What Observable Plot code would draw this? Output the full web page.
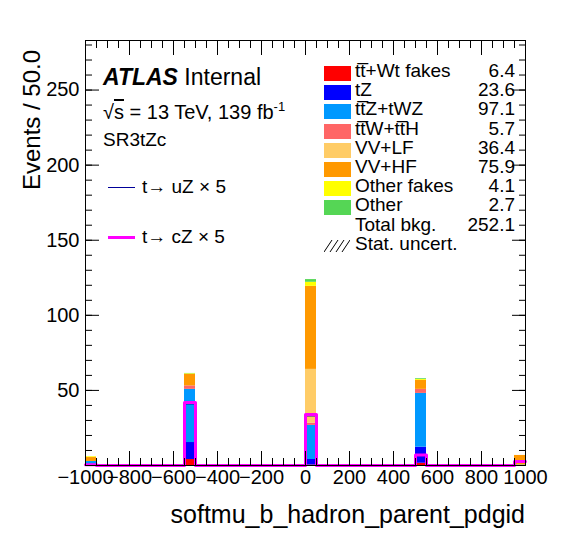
<!DOCTYPE html>
<html><head><meta charset="utf-8">
<script src="https://cdn.jsdelivr.net/npm/d3@7"></script>
<script src="https://cdn.jsdelivr.net/npm/@observablehq/plot@0.6"></script>
<style>
body{margin:0;background:#fff;font-family:"Liberation Sans",Arial,sans-serif}
#wrap{position:relative;width:571px;height:547px}
.t{position:absolute;white-space:nowrap;color:#000}
</style></head><body>
<div id="wrap"></div>
<script>
// bin lower edges of the filled bins (width 50)
const bins = [-1000, -550, 0, 500, 950];
const labels = ["tt\u0305+Wt fakes", "tZ", "tt\u0305Z+tWZ", "tt\u0305W+tt\u0305H", "VV+LF", "VV+HF", "Other fakes", "Other"];
const colors = ["#ff0000", "#0000ff", "#0099ff", "#ff6666", "#ffcc66", "#ff9900", "#ffff00", "#55d655"];
const yields = ["6.4", "23.6", "97.1", "5.7", "36.4", "75.9", "4.1", "2.7"];
// per-process values in each bin
const ttFakes = [0, 4, 0.3, 1.5, 0];
const tZ = [0, 11.3, 3.7, 10.7, 0];
const ttZ = [2.7, 35.4, 22.7, 35.8, 0.3];
const ttWH = [0, 2.3, 1.5, 2.7, 0];
const vvLF = [0, 0, 35.8, 0, 0];
const vvHF = [2.6, 7.7, 55.3, 6, 6.4];
const otherFakes = [0.5, 0.4, 2.7, 0.6, 0];
const other = [0, 0.2, 1.8, 0.5, 0];
const sigCZ = [0.5, 42, 34, 7, 2.7];
const sigUZ = [0.5, 41, 33, 6.5, 2.5];

const series = [ttFakes, tZ, ttZ, ttWH, vvLF, vvHF, otherFakes, other];
const rects = [];
bins.forEach((b, i) => {
  let acc = 0;
  series.forEach((s, k) => {
    rects.push({x1: b, x2: b + 50, y1: acc, y2: acc + s[i], fill: colors[k]});
    acc += s[i];
  });
});
// step outline over all 40 bins
const stepPts = (vals) => {
  const pts = [];
  for (let e = -1000; e < 1000; e += 50) {
    const j = bins.indexOf(e);
    pts.push({x: e, y: j >= 0 ? vals[j] : 0});
  }
  pts.push({x: 1000, y: pts[pts.length - 1].y});
  return pts;
};

const ff = "Liberation Sans, Arial, sans-serif";
const chart = Plot.plot({
  width: 571, height: 547,
  marginLeft: 85, marginRight: 46, marginTop: 40, marginBottom: 82,
  style: {fontFamily: ff, fontSize: "20px", background: "white"},
  x: {domain: [-1000, 1000]},
  y: {domain: [0, 283]},
  marks: [
    Plot.rect(rects, {x1: "x1", x2: "x2", y1: "y1", y2: "y2", fill: "fill"}),
    Plot.line(stepPts(sigUZ), {x: "x", y: "y", curve: "step-after", stroke: "#000099", strokeWidth: 1}),
    Plot.line(stepPts(sigCZ), {x: "x", y: "y", curve: "step-after", stroke: "#ff00ff", strokeWidth: 3}),
    Plot.frame({stroke: "black", strokeWidth: 1}),
    Plot.axisX({ticks: d3.range(-1000, 1001, 200), tickSize: -14, tickPadding: 18, fontSize: 20, tickFormat: d3.format("d"), label: null}),
    Plot.axisX({ticks: d3.range(-1000, 1001, 50), tickSize: -7, tickFormat: () => "", label: null}),
    Plot.axisX({anchor: "top", ticks: d3.range(-1000, 1001, 200), tickSize: -14, tickFormat: () => "", label: null}),
    Plot.axisX({anchor: "top", ticks: d3.range(-1000, 1001, 50), tickSize: -7, tickFormat: () => "", label: null}),
    Plot.axisY({ticks: d3.range(50, 251, 50), tickSize: -14, tickPadding: 20, fontSize: 20, label: null}),
    Plot.axisY({ticks: d3.range(0, 281, 10), tickSize: -7, tickFormat: () => "", label: null}),
    Plot.axisY({anchor: "right", ticks: d3.range(0, 251, 50), tickSize: -14, tickFormat: () => "", label: null}),
    Plot.axisY({anchor: "right", ticks: d3.range(0, 281, 10), tickSize: -7, tickFormat: () => "", label: null})
  ]
});
const wrap = document.getElementById("wrap");
wrap.append(chart);

function txt(html, left, top, style) {
  const d = document.createElement("div");
  d.className = "t";
  d.innerHTML = html;
  d.style.left = left + "px"; d.style.top = top + "px";
  Object.assign(d.style, style || {});
  wrap.append(d);
  return d;
}
txt("softmu_b_hadron_parent_pdgid", 0, 500, {left: "auto", right: "46px", fontSize: "25px"});
txt("Events / 50.0", 0, 0, {fontSize: "24px", transform: "translate(18px,190px) rotate(-90deg)", transformOrigin: "0 0"});
txt("<b><i>ATLAS</i></b> Internal", 103, 64, {fontSize: "23px"});
txt("\u221A<span style='text-decoration:overline'>s</span> = 13 TeV, 139 fb<sup style='font-size:13px'>-1</sup>", 103, 99, {fontSize: "20px"});
txt("SR3tZc", 103, 129, {fontSize: "19px"});
txt("<span style='display:inline-block;width:27px;border-top:1px solid #000099;vertical-align:middle;margin-right:7px'></span>t\u2192 uZ \u00D7 5", 108, 176, {fontSize: "19px"});
txt("<span style='display:inline-block;width:27px;border-top:3px solid #ff00ff;vertical-align:middle;margin-right:7px'></span>t\u2192 cZ \u00D7 5", 108, 226, {fontSize: "19px"});
labels.forEach((l, k) => {
  const y = 64 + k * 19.2;
  txt("", 324, y + 2, {width: "27px", height: "15px", background: colors[k]});
  txt(l, 355, y - 4, {fontSize: "19px"});
  txt(yields[k], 0, y - 4, {left: "auto", right: "56px", fontSize: "19px"});
});
txt("Total bkg.", 355, 64 + 8 * 19.2 - 4, {fontSize: "19px"});
txt("252.1", 0, 64 + 8 * 19.2 - 4, {left: "auto", right: "56px", fontSize: "19px"});
txt("<svg width='26' height='14'><g stroke='black' stroke-width='1'><line x1='0' y1='14' x2='8' y2='2'/><line x1='6' y1='14' x2='14' y2='2'/><line x1='12' y1='14' x2='20' y2='2'/><line x1='18' y1='14' x2='26' y2='2'/></g></svg>", 324, 64 + 9 * 19.2 + 1, {});
txt("Stat. uncert.", 355, 64 + 9 * 19.2 - 4, {fontSize: "19px"});
</script>
</body></html>
